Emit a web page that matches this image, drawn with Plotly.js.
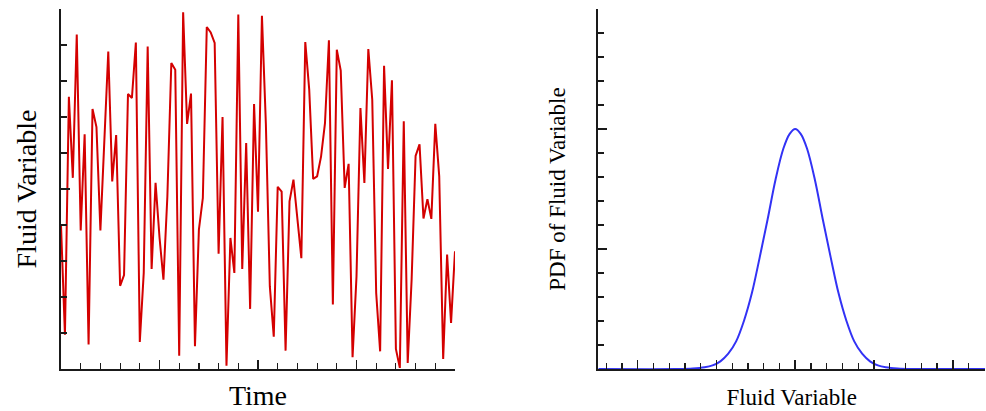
<!DOCTYPE html>
<html>
<head>
<meta charset="utf-8">
<script src="https://cdn.plot.ly/plotly-3.0.1.min.js"></script>
<style>html,body{margin:0;padding:0;background:#fff;}#chart{width:986px;height:411px;}</style>
</head>
<body>
<div id="chart"></div>
<script>
// Time series (left panel)
const timeSteps = Array.from({length: 101}, (_, i) => i);
const fluidValues = [
  0.40, 0.095, 0.756, 0.531, 0.929, 0.385, 0.652, 0.068, 0.722, 0.672,
  0.385, 0.65, 0.882, 0.521, 0.650, 0.231, 0.261, 0.764, 0.753, 0.907,
  0.075, 0.267, 0.896, 0.278, 0.517, 0.366, 0.248, 0.48, 0.85, 0.831,
  0.037, 0.991, 0.681, 0.765, 0.063, 0.387, 0.475, 0.95, 0.935, 0.906,
  0.32, 0.70, 0.009, 0.364, 0.267, 0.985, 0.278, 0.628, 0.167, 0.736,
  0.437, 0.981, 0.68, 0.23, 0.09, 0.506, 0.493, 0.051, 0.466, 0.526,
  0.41, 0.308, 0.908, 0.776, 0.528, 0.535, 0.59, 0.683, 0.913, 0.179,
  0.887, 0.829, 0.503, 0.570, 0.033, 0.257, 0.725, 0.517, 0.889, 0.748,
  0.211, 0.049, 0.842, 0.556, 0.802, 0.056, 0.003, 0.688, 0.017, 0.25,
  0.592, 0.624, 0.418, 0.472, 0.417, 0.681, 0.535, 0.028, 0.318, 0.128,
  0.327
];

// PDF curve (right panel)
const pdfX = [-2.5, -1.5, -1.3, -1.15, -1.05, -0.95, -0.85, -0.75, -0.65, -0.55, -0.45, -0.35, -0.25, -0.15, -0.07, 0,
              0.07, 0.15, 0.25, 0.35, 0.45, 0.55, 0.65, 0.75, 0.85, 0.95, 1.05, 1.15, 1.3, 1.5, 2.41];
const pdfY = [0, 0, 0.0008, 0.0028, 0.006, 0.0128, 0.0255, 0.046, 0.0805, 0.1265, 0.1865, 0.2495, 0.3155, 0.3675, 0.392, 0.4,
              0.392, 0.3675, 0.3155, 0.2495, 0.1865, 0.1265, 0.0805, 0.046, 0.0255, 0.0128, 0.006, 0.0028, 0.0008, 0, 0];

const axisColor = '#1a1a1a';
const serif = 'Liberation Serif, Times New Roman, serif';

function axisBase(extra) {
  return Object.assign({
    showline: true, linecolor: axisColor, linewidth: 2,
    ticks: 'inside', ticklen: 9, tickwidth: 1.6, tickcolor: axisColor,
    showticklabels: false, showgrid: false, zeroline: false,
    fixedrange: true
  }, extra);
}

const traces = [
  {x: timeSteps, y: fluidValues, type: 'scatter', mode: 'lines',
   line: {color: '#d40000', width: 2}, xaxis: 'x', yaxis: 'y', hoverinfo: 'skip'},
  {x: pdfX, y: pdfY, type: 'scatter', mode: 'lines',
   line: {color: '#3232f5', width: 2, shape: 'spline', smoothing: 1}, xaxis: 'x2', yaxis: 'y2', hoverinfo: 'skip'}
];

const layout = {
  width: 986, height: 411,
  margin: {l: 61, r: 1, t: 9, b: 42},
  paper_bgcolor: '#ffffff', plot_bgcolor: '#ffffff',
  showlegend: false,
  font: {family: serif, color: '#000'},
  xaxis: axisBase({domain: [0, 0.4264], range: [0, 100], tick0: 0, dtick: 25,
    minor: {ticks: 'inside', ticklen: 6, tickwidth: 1.2, tickcolor: axisColor, dtick: 5, showgrid: false},
    title: {text: 'Time', font: {family: serif, size: 28, color: '#000'}, standoff: 16}}),
  yaxis: axisBase({domain: [0, 1], range: [0, 1], tick0: 0, dtick: 0.5,
    minor: {ticks: 'inside', ticklen: 6, tickwidth: 1.2, tickcolor: axisColor, dtick: 0.1, showgrid: false},
    title: {text: 'Fluid Variable', font: {family: serif, size: 28, color: '#000'}, standoff: 14}}),
  xaxis2: axisBase({domain: [0.5815, 1], range: [-2.5, 2.41], tick0: 0, dtick: 1, anchor: 'y2',
    minor: {ticks: 'inside', ticklen: 6, tickwidth: 1.2, tickcolor: axisColor, dtick: 0.2, showgrid: false},
    title: {text: 'Fluid Variable', font: {family: serif, size: 23, color: '#000'}, standoff: 19}}),
  yaxis2: axisBase({domain: [0, 1], range: [0, 0.6], tick0: 0, dtick: 0.2, anchor: 'x2',
    minor: {ticks: 'inside', ticklen: 6, tickwidth: 1.2, tickcolor: axisColor, dtick: 0.04, showgrid: false},
    title: {text: 'PDF of Fluid Variable', font: {family: serif, size: 23, color: '#000'}, standoff: 24}})
};

Plotly.newPlot('chart', traces, layout, {staticPlot: true, displayModeBar: false});
</script>
</body>
</html>
